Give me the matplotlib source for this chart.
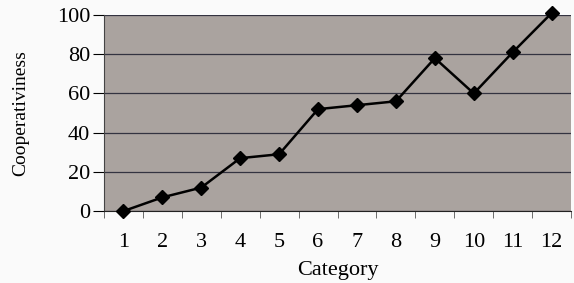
import numpy as np
import matplotlib.pyplot as plt

categories = [str(i) for i in range(1, 13)]
values = [0, 7, 12, 27, 29, 52, 54, 56, 78, 60, 81, 101]
y_ticks = [0, 20, 40, 60, 80, 100]

plt.rcParams['font.family'] = 'Liberation Serif'

fig = plt.figure(figsize=(5.74, 2.83), dpi=100)
ax = fig.add_axes([0.181, 0.254, 0.814, 0.693])
ax.set_facecolor('#aaa39f')

x = np.arange(len(categories))
ax.plot(x, values, color='black', linewidth=1.8, marker='D', markersize=7.5,
        clip_on=False, zorder=3)

ax.set_xlim(-0.5, len(categories) - 0.5)
ax.set_ylim(0, 100)
ax.set_yticks(y_ticks)
ax.set_xticks(x)
ax.set_xticklabels(categories)
ax.set_xticks(np.arange(-0.5, len(categories), 1), minor=True)
ax.tick_params(axis='x', which='major', length=0, labelsize=16, pad=16)
ax.tick_params(axis='x', which='minor', length=5, direction='out', color='#555555')
ax.tick_params(axis='y', length=8, labelsize=16, pad=2)

ax.grid(axis='y', color='#333340', linewidth=0.9)
ax.set_axisbelow(True)
for s in ['top', 'right']:
    ax.spines[s].set_visible(False)
ax.spines['left'].set_color('#444444')
ax.spines['bottom'].set_color('#222222')

ax.set_xlabel('Category', fontsize=16, labelpad=6)
ax.set_ylabel('Cooperativiness', fontsize=14, labelpad=20)

fig.savefig('out.png', dpi=100, facecolor='#fafafa')
